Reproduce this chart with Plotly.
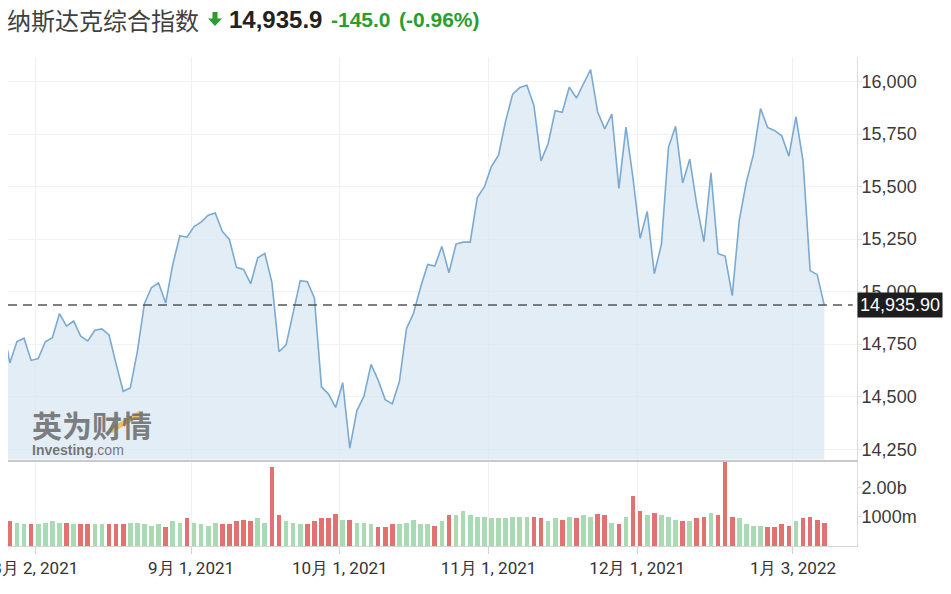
import pandas as pd
import plotly.graph_objects as go

# ---------------- data ----------------
holidays = ["2021-09-06", "2021-11-25", "2021-12-24"]
dates = pd.bdate_range("2021-07-26", "2022-01-07", freq="C", holidays=holidays)

closes = [
    14840.71, 14660.58, 14762.58, 14778.26, 14672.68,
    14681.07, 14761.29, 14780.53, 14895.12, 14835.76, 14860.18, 14788.09, 14765.14,
    14816.26, 14822.90, 14793.76, 14656.18, 14525.91, 14541.79, 14714.66, 14942.65,
    15019.80, 15041.86, 14945.81, 15129.50, 15265.89, 15259.24,
    15309.38, 15331.18, 15363.52, 15374.33, 15286.64, 15248.25, 15115.49, 15105.58,
    15037.76, 15161.53, 15181.92, 15043.97, 14713.90, 14746.40, 14896.85, 15052.24,
    15047.70, 14969.97, 14546.68, 14512.44, 14448.58,
    14566.70, 14255.49, 14433.83, 14501.91, 14654.02, 14579.54, 14486.20, 14465.92,
    14571.64, 14823.43, 14897.34, 15021.81, 15129.09, 15121.68, 15215.70, 15090.20,
    15226.71, 15235.71, 15235.84, 15448.12, 15498.39,
    15595.92, 15649.60, 15811.58, 15940.31, 15971.59, 15982.36, 15886.54, 15622.71,
    15704.28, 15860.96, 15853.85, 15973.86, 15921.57, 15993.71, 16057.44, 15854.76,
    15775.14, 15845.23, 15491.66, 15782.83, 15537.69,
    15254.05, 15381.32, 15085.47, 15225.15, 15686.92, 15786.99, 15517.37, 15630.60,
    15413.28, 15237.64, 15565.58, 15180.43, 15169.68, 14980.94, 15341.09, 15521.89,
    15653.37, 15871.26, 15781.72, 15766.22, 15741.56, 15644.97,
    15832.80, 15622.72, 15100.17, 15080.86, 14935.90,
]

# volume in billions
volumes = [
    0.85, 0.85, 0.79, 0.75, 0.75,
    0.75, 0.79, 0.85, 0.79, 0.79, 0.75, 0.75, 0.75, 0.75, 0.75, 0.75, 0.75, 0.75,
    0.79, 0.79, 0.75, 0.69, 0.75, 0.64, 0.85, 0.79, 0.95,
    0.79, 0.75, 0.69, 0.79, 0.75, 0.75, 0.85, 0.90, 0.85, 0.95, 0.79, 2.71, 1.06,
    0.85, 0.79, 0.75, 0.75, 0.85, 0.95, 0.95, 1.10,
    0.90, 0.90, 0.79, 0.79, 0.75, 0.64, 0.64, 0.75, 0.75, 0.79, 0.90, 0.75, 0.75,
    0.69, 0.85, 1.06, 1.06, 1.21, 1.06, 1.00, 1.00,
    0.95, 0.95, 0.95, 1.00, 1.00, 1.00, 1.00, 0.95, 0.85, 0.95, 0.90, 1.00, 0.95,
    1.06, 1.00, 1.10, 1.06, 0.79, 0.75, 1.00, 1.72,
    1.21, 1.06, 1.15, 1.06, 1.00, 0.90, 0.85, 0.85, 0.95, 1.00, 1.15, 1.06, 3.30,
    1.00, 0.95, 0.75, 0.69, 0.69, 0.64, 0.64, 0.75, 0.69,
    0.85, 0.95, 1.00, 0.90, 0.79,
]

tick_dates = ["2021-08-02", "2021-09-01", "2021-10-01", "2021-11-01", "2021-12-01", "2022-01-03"]
tick_labels = ["8月 2, 2021", "9月 1, 2021", "10月 1, 2021", "11月 1, 2021", "12月 1, 2021", "1月 3, 2022"]

price_ticks = [14250, 14500, 14750, 15000, 15250, 15500, 15750, 16000]
price_tick_labels = ["14,250", "14,500", "14,750", "15,000", "15,250", "15,500", "15,750", "16,000"]
vol_ticks = [1, 2]
vol_tick_labels = ["1000m", "2.00b"]

last_close = 14935.90
title_name = "纳斯达克综合指数"
title_value = "14,935.9"
title_change = "-145.0"
title_pct = "(-0.96%)"

assert len(dates) == len(closes) == len(volumes)

# ---------------- figure ----------------
idx = list(range(len(dates)))
date_pos = {d.strftime("%Y-%m-%d"): i for i, d in enumerate(dates)}
tick_vals = [date_pos[d] - 0.42 for d in tick_dates]

RED = "#e27272"
GREEN = "#a9dab4"
bar_colors = [RED] + [RED if closes[i] < closes[i - 1] else GREEN for i in range(1, len(closes))]

W, H = 951, 594
ML, MR, MT, MB = 8, 94, 57, 48
PW, PH = W - ML - MR, H - MT - MB


def px(x):
    return (x - ML) / PW


def py(y):
    return (H - MB - y) / PH


fig = go.Figure()
fig.add_trace(go.Scatter(
    x=idx, y=closes, xaxis="x2", yaxis="y", mode="lines",
    line=dict(color="#7aaad1", width=1.6),
    fill="tozeroy", fillcolor="rgba(214,229,241,0.7)",
    hoverinfo="skip", showlegend=False,
))
fig.add_trace(go.Bar(
    x=idx, y=volumes, xaxis="x", yaxis="y2",
    marker=dict(color=bar_colors, line=dict(width=0)),
    width=0.66, hoverinfo="skip", showlegend=False,
))

xr = [0.735, 120.62]
xtickfont = dict(family="Roboto, Arial, sans-serif", size=17, color="#333333")
ytickfont = dict(family="Arial, Liberation Sans, sans-serif", size=18, color="#3a3a3a")

fig.update_layout(
    width=W, height=H,
    margin=dict(l=ML, r=MR, t=MT, b=MB, autoexpand=False),
    paper_bgcolor="white", plot_bgcolor="white",
    showlegend=False, bargap=0,
    xaxis=dict(
        domain=[0, 1], anchor="y2", range=xr, automargin=False,
        tickmode="array", tickvals=tick_vals, ticktext=tick_labels,
        ticks="outside", ticklen=7, tickcolor="#d4d4d4",
        ticklabeloverflow="allow",
        showgrid=True, gridcolor="#f0f0f0", gridwidth=1,
        showline=True, linecolor="#d4d4d4", linewidth=1,
        zeroline=False, tickfont=xtickfont,
    ),
    xaxis2=dict(
        domain=[0, 1], anchor="y", range=xr, matches="x", automargin=False,
        tickmode="array", tickvals=tick_vals, showticklabels=False,
        ticks="", showgrid=True, gridcolor="#f0f0f0", gridwidth=1,
        showline=True, linecolor="#c9c9c9", linewidth=1.5, zeroline=False,
    ),
    yaxis=dict(
        domain=[py(459.5), 1], anchor="x2", side="right", automargin=False,
        range=[14201, 16117],
        tickmode="array", tickvals=price_ticks, ticktext=price_tick_labels,
        ticks="outside", ticklen=4, tickcolor="#e2e2e2", ticklabelstandoff=-4,
        showgrid=True, gridcolor="#f2f2f2", gridwidth=1,
        showline=True, linecolor="#dcdcdc", linewidth=1,
        zeroline=False, tickfont=ytickfont,
    ),
    yaxis2=dict(
        domain=[0, py(461)], anchor="x", side="right", automargin=False,
        range=[0, 2.93],
        tickmode="array", tickvals=vol_ticks, ticktext=vol_tick_labels,
        ticks="outside", ticklen=4, tickcolor="#e2e2e2", ticklabelstandoff=-4,
        showgrid=False, showline=True, linecolor="#dcdcdc", linewidth=1,
        zeroline=False, tickfont=ytickfont,
    ),
)

# last price dashed line + label
fig.add_shape(type="line", xref="paper", yref="y", x0=0, x1=0.995,
              y0=last_close, y1=last_close,
              line=dict(color="#555555", width=1.5, dash="9px,6px"))
fig.add_annotation(xref="paper", yref="y", x=1.0, y=last_close,
                   xanchor="left", yanchor="middle", showarrow=False,
                   text=f"{last_close:,.2f}", bgcolor="#1d1d1d", borderpad=2,
                   font=dict(family="Arial, Liberation Sans, sans-serif", size=18, color="white"))

# watermark
fig.add_shape(type="line", xref="paper", yref="paper",
              x0=px(110), y0=py(431), x1=px(141), y1=py(413),
              line=dict(color="rgba(243,183,60,0.85)", width=5), layer="above")
fig.add_annotation(xref="paper", yref="paper", x=px(30), y=py(424),
                   xanchor="left", yanchor="middle", showarrow=False,
                   text="<b>英为财情</b>",
                   font=dict(family="Noto Sans CJK SC", size=30, color="rgba(105,105,105,0.85)"))
fig.add_annotation(xref="paper", yref="paper", x=px(30), y=py(450),
                   xanchor="left", yanchor="middle", showarrow=False,
                   text="<b>Investing</b>.com",
                   font=dict(family="Arial, sans-serif", size=14, color="rgba(95,95,95,0.85)"))

# title
GREENT = "#2a9d2f"
ty = py(19)
fig.add_annotation(xref="paper", yref="paper", x=px(5), y=ty, xanchor="left", yanchor="middle",
                   showarrow=False, text=title_name,
                   font=dict(family="Noto Sans CJK SC", size=24, color="#3f3f3f"))
# down arrow glyph drawn as a small path
ax0, ax1, sx0, sx1 = 208, 222, 212.5, 217.5
ay0, aym, ay1 = 12, 18.5, 26
arrow_path = (
    f"M {px(sx0)} {py(ay0)} L {px(sx1)} {py(ay0)} L {px(sx1)} {py(aym)} "
    f"L {px(ax1)} {py(aym)} L {px((ax0 + ax1) / 2)} {py(ay1)} L {px(ax0)} {py(aym)} "
    f"L {px(sx0)} {py(aym)} Z"
)
fig.add_shape(type="path", xref="paper", yref="paper", path=arrow_path,
              fillcolor=GREENT, line=dict(width=0))
fig.add_annotation(xref="paper", yref="paper", x=px(227), y=ty, xanchor="left", yanchor="middle",
                   showarrow=False, text=f"<b>{title_value}</b>",
                   font=dict(family="Arial, Liberation Sans, sans-serif", size=24, color="#222222"))
fig.add_annotation(xref="paper", yref="paper", x=px(329), y=ty, xanchor="left", yanchor="middle",
                   showarrow=False, text=f"<b>{title_change}</b>",
                   font=dict(family="Arial, Liberation Sans, sans-serif", size=21, color=GREENT))
fig.add_annotation(xref="paper", yref="paper", x=px(397), y=ty, xanchor="left", yanchor="middle",
                   showarrow=False, text=f"<b>{title_pct}</b>",
                   font=dict(family="Arial, Liberation Sans, sans-serif", size=21, color=GREENT))

fig.write_html(
    "out.html",
    config={"displayModeBar": False},
    post_script="document.body.style.margin='0';document.body.style.padding='0';",
)
